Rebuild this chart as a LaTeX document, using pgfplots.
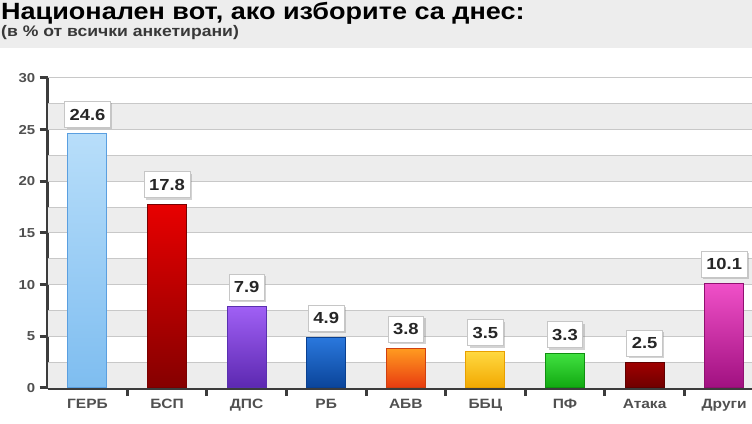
\documentclass[border=0pt]{standalone}
\usepackage{fontspec}
\setmainfont[FakeStretch=1.15]{Liberation Sans}
\usepackage{pgfplots}
\pgfplotsset{compat=1.18}
\usetikzlibrary{shadows}

\definecolor{bandgray}{HTML}{EDEDED}
\definecolor{gridgray}{HTML}{C8C8C8}
\definecolor{axisgray}{HTML}{3C3C3C}
\definecolor{labelgray}{HTML}{505050}
% bar colours: outline, top, bottom
\definecolor{gerbD}{HTML}{5A9FE0}\definecolor{gerbT}{HTML}{B8DEFA}\definecolor{gerbB}{HTML}{7EBDF0}
\definecolor{bspD}{HTML}{7A0000}\definecolor{bspT}{HTML}{E80000}\definecolor{bspB}{HTML}{850000}
\definecolor{dpsD}{HTML}{5A30B0}\definecolor{dpsT}{HTML}{A060F5}\definecolor{dpsB}{HTML}{5C28B0}
\definecolor{rbD}{HTML}{0A4090}\definecolor{rbT}{HTML}{2A78DD}\definecolor{rbB}{HTML}{0A4499}
\definecolor{abvD}{HTML}{D04010}\definecolor{abvT}{HTML}{FF9A20}\definecolor{abvB}{HTML}{E83A10}
\definecolor{bbcD}{HTML}{E8A000}\definecolor{bbcT}{HTML}{FFD840}\definecolor{bbcB}{HTML}{F2A800}
\definecolor{pfD}{HTML}{109010}\definecolor{pfT}{HTML}{40E040}\definecolor{pfB}{HTML}{10A810}
\definecolor{atD}{HTML}{600000}\definecolor{atT}{HTML}{A00000}\definecolor{atB}{HTML}{6E0000}
\definecolor{drD}{HTML}{901070}\definecolor{drT}{HTML}{F050C8}\definecolor{drB}{HTML}{A01080}

\pgfplotsset{
  partybar/.style={ybar, bar width=39pt, bar shift=0pt,
    draw=#1D, line width=1pt, top color=#1T, bottom color=#1B},
}

\begin{document}
\begin{tikzpicture}
\useasboundingbox (0,0) rectangle (752pt,423pt);
\fill[bandgray] (0,375pt) rectangle (752pt,423pt);
\node[anchor=base west, inner sep=0pt, font=\fontsize{23.5}{26}\selectfont\bfseries]
  at (1pt,403pt) {Национален вот, ако изборите са днес:};
\node[anchor=base west, inner sep=0pt, font=\fontsize{15.3}{17}\selectfont\bfseries, text=labelgray!70!black]
  at (1pt,386pt) {(в \% от всички анкетирани)};

\begin{axis}[
  at={(47.7pt,35pt)}, anchor=south west,
  scale only axis, width=704.3pt, height=310pt,
  xmin=-0.5, xmax=8.35, ymin=0, ymax=30,
  axis x line=bottom, axis y line=left,
  axis line style={-, draw=axisgray, line width=3.5pt},
  /pgf/number format/assume math mode=true,
  ytick={0,5,...,30},
  xtick={0.5,1.5,...,7.5},
  xticklabels={},
  extra x ticks={0,...,8},
  extra x tick labels={ГЕРБ,БСП,ДПС,РБ,АБВ,ББЦ,ПФ,Атака,Други},
  extra x tick style={major tick length=0pt},
  tick align=outside, major tick length=8pt,
  tick style={draw=axisgray, line width=3pt},
  yticklabel style={font=\fontsize{13}{15}\selectfont\bfseries, text=labelgray, xshift=-1pt},
  xticklabel style={font=\fontsize{13.5}{15}\selectfont\bfseries, text=labelgray, yshift=-8pt},
  clip=false,
]
% alternating bands and grid lines behind the bars
\pgfplotsinvokeforeach{0,5,10,15,20,25}{
  \fill[bandgray] (axis cs:-0.5,#1) rectangle (axis cs:8.35,#1+2.5);
}
\pgfplotsinvokeforeach{2.5,5,7.5,10,12.5,15,17.5,20,22.5,25,27.5,30}{
  \draw[gridgray, line width=1pt] (axis cs:-0.5,#1) -- (axis cs:8.35,#1);
}

\addplot[partybar=gerb] coordinates {(0,24.6)};
\addplot[partybar=bsp] coordinates {(1,17.8)};
\addplot[partybar=dps] coordinates {(2,7.9)};
\addplot[partybar=rb] coordinates {(3,4.9)};
\addplot[partybar=abv] coordinates {(4,3.8)};
\addplot[partybar=bbc] coordinates {(5,3.5)};
\addplot[partybar=pf] coordinates {(6,3.3)};
\addplot[partybar=at] coordinates {(7,2.5)};
\addplot[partybar=dr] coordinates {(8,10.1)};

\addplot[draw=none, mark=none,
  nodes near coords,
  point meta=explicit symbolic,
  every node near coord/.style={anchor=south, yshift=6pt,
    fill=white, draw=gray!45, line width=0.6pt,
    drop shadow={shadow xshift=2pt, shadow yshift=-2pt, opacity=0.35},
    minimum height=26pt, inner xsep=5pt,
    font=\fontsize{16}{18}\selectfont\bfseries, text=black!85}]
  table[meta=label] {
    x y label
    0 24.6 24.6
    1 17.8 17.8
    2 7.9 7.9
    3 4.9 4.9
    4 3.8 3.8
    5 3.5 3.5
    6 3.3 3.3
    7 2.5 2.5
    8 10.1 10.1
  };
\end{axis}
\end{tikzpicture}
\end{document}
